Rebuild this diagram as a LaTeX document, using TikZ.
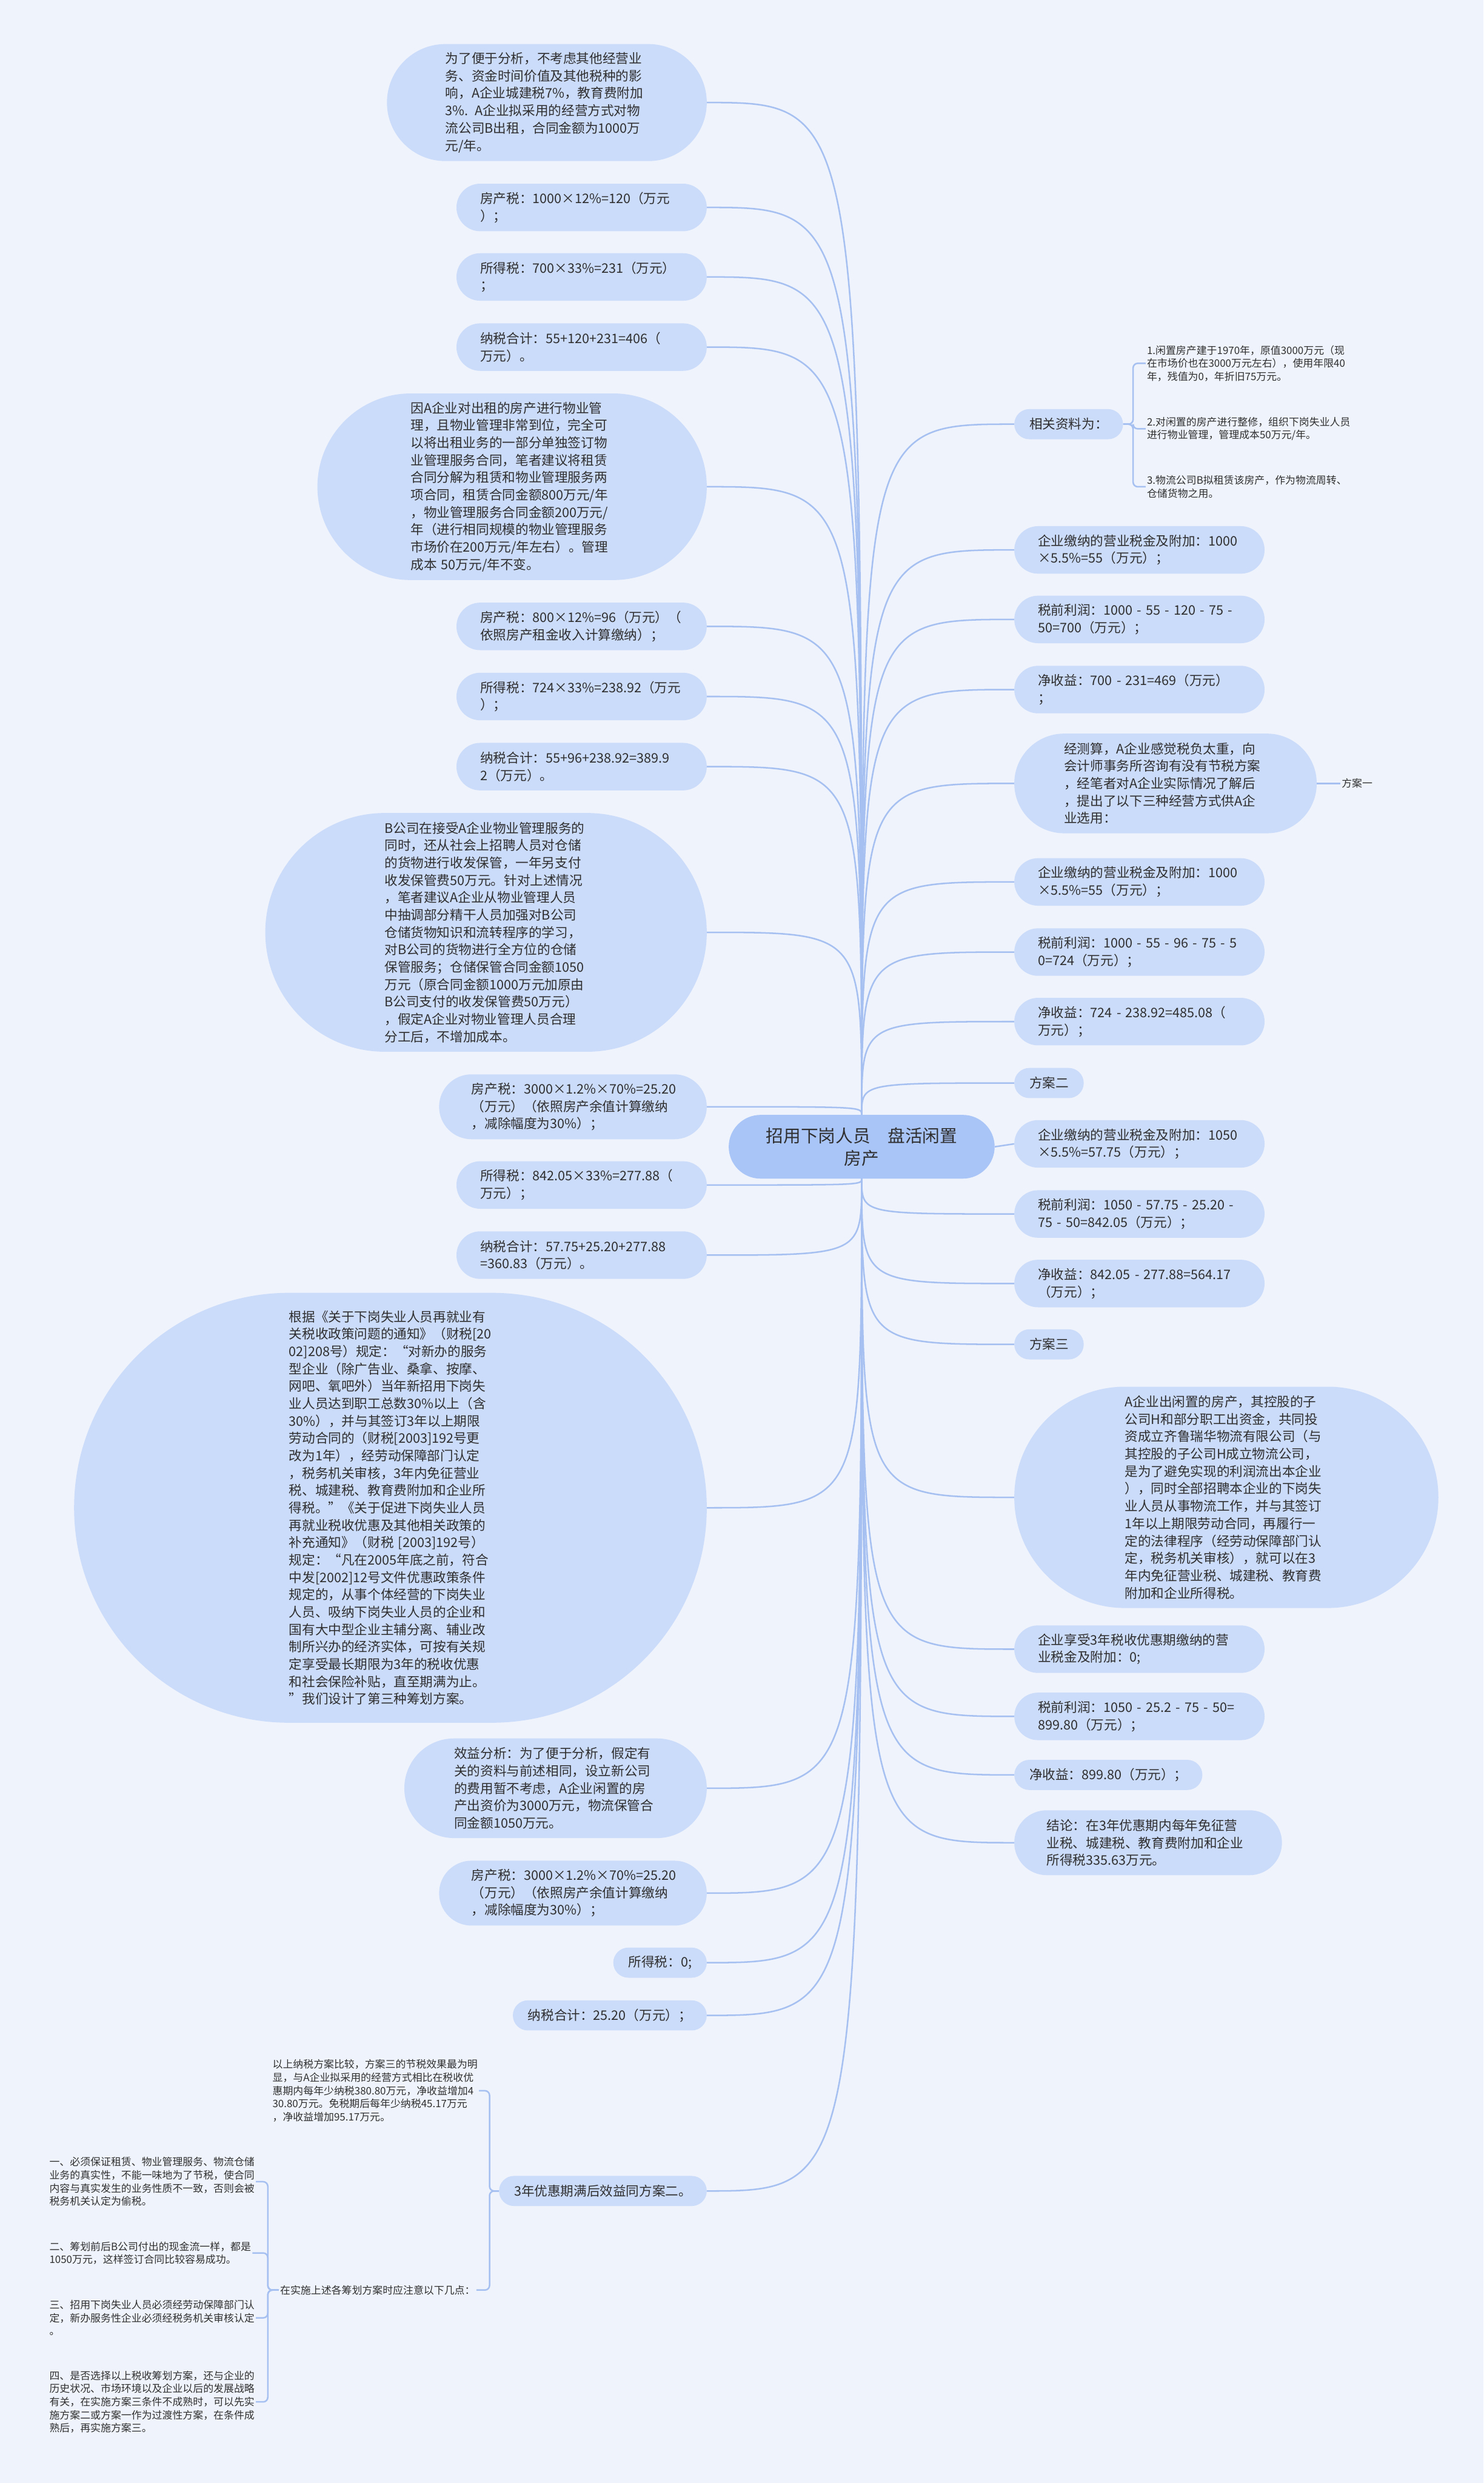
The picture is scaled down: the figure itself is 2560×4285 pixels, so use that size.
\documentclass[tikz,border=0pt]{standalone}
\usepackage{fontspec}
\setmainfont{Noto Sans CJK SC}

\definecolor{bgblue}{HTML}{EFF4FC}
\definecolor{nodeblue}{HTML}{CBDBFA}
\definecolor{rootblue}{HTML}{A9C4F7}
\definecolor{lineblue}{HTML}{A6C0F1}
\definecolor{textgray}{HTML}{2F2F2F}

\newcommand{\topicfont}{\fontsize{12.87pt}{17.07pt}\selectfont}
\newcommand{\notefont}{\fontsize{10.07pt}{12.87pt}\selectfont}
\newcommand{\rootfont}{\fontsize{17.07pt}{21.97pt}\selectfont}

\tikzstyle{short topic} = [rectangle,fill=nodeblue,text=textgray,font=\topicfont,inner ysep=0pt,align=left]
\tikzstyle{topic} = [short topic,text width=7cm]
\tikzstyle{root topic} = [rectangle,fill=rootblue,text=textgray,font=\rootfont,inner xsep=36.7pt,inner ysep=0pt,minimum height=62.6pt,rounded corners=31.3pt,align=center]
\tikzstyle{note} = [font=\notefont,text=textgray,align=left,inner sep=0.04cm]
\tikzstyle{branch} = [draw=lineblue,line width=1.5pt]
\tikzstyle{bracket} = [draw=lineblue,line width=1.5pt,rounded corners=0.16cm]

\begin{document}
\begin{tikzpicture}[x=0.02cm,y=-0.02cm]
      \fill[bgblue] (0,0) rectangle (2560,4285);
      \useasboundingbox (0,0) rectangle (2560,4285);
      % nodes
      \node[root topic] (root) at (1487,1979) {招用下岗人员\hspace{1em}盘活闲置\\房产};
      \foreach \nodename/\y/\n/\content in {
        L1/177/6/{为了便于分析，不考虑其他经营业\\务、资金时间价值及其他税种的影\\响，A企业城建税7\%，教育费附加\\3\%. A企业拟采用的经营方式对物\\流公司B出租，合同金额为1000万\\元/年。},
        L2/358/2/{房产税：1000×12\%=120（万元\\）；},
        L3/478/2/{所得税：700×33\%=231（万元）\\；},
        L4/599/2/{纳税合计：55+120+231=406（\\万元）。},
        L5/840/10/{因A企业对出租的房产进行物业管\\理，且物业管理非常到位，完全可\\以将出租业务的一部分单独签订物\\业管理服务合同，笔者建议将租赁\\合同分解为租赁和物业管理服务两\\项合同，租赁合同金额800万元/年\\，物业管理服务合同金额200万元/\\年（进行相同规模的物业管理服务\\市场价在200万元/年左右）。管理\\成本 50万元/年不变。},
        L6/1081/2/{房产税：800×12\%=96（万元）（\\依照房产租金收入计算缴纳）；},
        L7/1202/2/{所得税：724×33\%=238.92（万元\\）；},
        L8/1323/2/{纳税合计：55+96+238.92=389.9\\2（万元）。},
        L9/1609/13/{B公司在接受A企业物业管理服务的\\同时，还从社会上招聘人员对仓储\\的货物进行收发保管，一年另支付\\收发保管费50万元。针对上述情况\\，笔者建议A企业从物业管理人员\\中抽调部分精干人员加强对B公司\\仓储货物知识和流转程序的学习，\\对B公司的货物进行全方位的仓储\\保管服务；仓储保管合同金额1050\\万元（原合同金额1000万元加原由\\B公司支付的收发保管费50万元）\\，假定A企业对物业管理人员合理\\分工后，不增加成本。},
        L10/1910/3/{房产税：3000×1.2\%×70\%=25.20\\（万元）（依照房产余值计算缴纳\\，减除幅度为30\%）；},
        L11/2045/2/{所得税：842.05×33\%=277.88（\\万元）；},
        L12/2166/2/{纳税合计：57.75+25.20+277.88\\=360.83（万元）。},
        L13/2602/24/{根据《关于下岗失业人员再就业有\\关税收政策问题的通知》（财税[20\\02]208号）规定：“对新办的服务\\型企业（除广告业、桑拿、按摩、\\网吧、氧吧外）当年新招用下岗失\\业人员达到职工总数30\%以上（含\\30\%），并与其签订3年以上期限\\劳动合同的（财税[2003]192号更\\改为1年），经劳动保障部门认定\\，税务机关审核，3年内免征营业\\税、城建税、教育费附加和企业所\\得税。”《关于促进下岗失业人员\\再就业税收优惠及其他相关政策的\\补充通知》（财税 [2003]192号）\\规定：“凡在2005年底之前，符合\\中发[2002]12号文件优惠政策条件\\规定的，从事个体经营的下岗失业\\人员、吸纳下岗失业人员的企业和\\国有大中型企业主辅分离、辅业改\\制所兴办的经济实体，可按有关规\\定享受最长期限为3年的税收优惠\\和社会保险补贴，直至期满为止。\\”我们设计了第三种筹划方案。},
        L14/3086/5/{效益分析：为了便于分析，假定有\\关的资料与前述相同，设立新公司\\的费用暂不考虑，A企业闲置的房\\产出资价为3000万元，物流保管合\\同金额1050万元。},
        L15/3267/3/{房产税：3000×1.2\%×70\%=25.20\\（万元）（依照房产余值计算缴纳\\，减除幅度为30\%）；}}
      {
        \pgfmathsetmacro{\hh}{((\n-1)*30+52)*0.569055}
        \pgfmathsetmacro{\rr}{\hh/2}
        \node[topic, anchor=east, minimum height=\hh pt, inner xsep=\rr pt, rounded corners=\rr pt] (\nodename) at (1220,\y) {\content};
      };
      \foreach \nodename/\y/\content in {
        L16/3387/{所得税：0;},
        L17/3478/{纳税合计：25.20（万元）；},
        L18/3781/{3年优惠期满后效益同方案二。}}
      {
        \node[short topic, anchor=east, minimum height=29.6pt, inner xsep=14.8pt, rounded corners=14.8pt] (\nodename) at (1220,\y) {\content};
      };
      \foreach \nodename/\y/\n/\content in {
        R2/949/2/{企业缴纳的营业税金及附加：1000\\×5.5\%=55（万元）；},
        R3/1069/2/{税前利润：1000 - 55 - 120 - 75 -\\50=700（万元）；},
        R4/1190/2/{净收益：700 - 231=469（万元）\\；},
        R5/1352/5/{经测算，A企业感觉税负太重，向\\会计师事务所咨询有没有节税方案\\，经笔者对A企业实际情况了解后\\，提出了以下三种经营方式供A企\\业选用：},
        R6/1522/2/{企业缴纳的营业税金及附加：1000\\×5.5\%=55（万元）；},
        R7/1643/2/{税前利润：1000 - 55 - 96 - 75 - 5\\0=724（万元）；},
        R8/1763/2/{净收益：724 - 238.92=485.08（\\万元）；},
        R10/1974/2/{企业缴纳的营业税金及附加：1050\\×5.5\%=57.75（万元）；},
        R11/2095/2/{税前利润：1050 - 57.75 - 25.20 -\\75 - 50=842.05（万元）；},
        R12/2215/2/{净收益：842.05 - 277.88=564.17\\（万元）；},
        R14/2584/12/{A企业出闲置的房产，其控股的子\\公司H和部分职工出资金，共同投\\资成立齐鲁瑞华物流有限公司（与\\其控股的子公司H成立物流公司，\\是为了避免实现的利润流出本企业\\），同时全部招聘本企业的下岗失\\业人员从事物流工作，并与其签订\\1年以上期限劳动合同，再履行一\\定的法律程序（经劳动保障部门认\\定，税务机关审核），就可以在3\\年内免征营业税、城建税、教育费\\附加和企业所得税。},
        R15/2846/2/{企业享受3年税收优惠期缴纳的营\\业税金及附加：0;},
        R16/2962/2/{税前利润：1050 - 25.2 - 75 - 50=\\899.80（万元）；},
        R18/3180/3/{结论：在3年优惠期内每年免征营\\业税、城建税、教育费附加和企业\\所得税335.63万元。}}
      {
        \pgfmathsetmacro{\hh}{((\n-1)*30+52)*0.569055}
        \pgfmathsetmacro{\rr}{\hh/2}
        \node[topic, anchor=west, minimum height=\hh pt, inner xsep=\rr pt, rounded corners=\rr pt] (\nodename) at (1750,\y) {\content};
      };
      \foreach \nodename/\y/\content in {
        R1/732/{相关资料为：},
        R9/1869/{方案二},
        R13/2320/{方案三},
        R17/3063/{净收益：899.80（万元）；}}
      {
        \node[short topic, anchor=west, minimum height=29.6pt, inner xsep=14.8pt, rounded corners=14.8pt] (\nodename) at (1750,\y) {\content};
      };
      % small notes
      \foreach \nodename/\x/\y/\content in {
        C1/1977/627/{1.闲置房产建于1970年，原值3000万元（现\\在市场价也在3000万元左右），使用年限40\\年，残值为0，年折旧75万元。},
        C2/1977/740/{2.对闲置的房产进行整修，组织下岗失业人员\\进行物业管理，管理成本50万元/年。},
        C3/1977/840/{3.物流公司B拟租赁该房产，作为物流周转、\\仓储货物之用。},
        P1/2313/1352/{方案一},
        T1/468/3608/{以上纳税方案比较，方案三的节税效果最为明\\显，与A企业拟采用的经营方式相比在税收优\\惠期内每年少纳税380.80万元，净收益增加4\\30.80万元。免税期后每年少纳税45.17万元\\，净收益增加95.17万元。},
        I1/83/3765/{一、必须保证租赁、物业管理服务、物流仓储\\业务的真实性，不能一味地为了节税，使合同\\内容与真实发生的业务性质不一致，否则会被\\税务机关认定为偷税。},
        I2/83/3888/{二、筹划前后B公司付出的现金流一样，都是\\1050万元，这样签订合同比较容易成功。},
        I3/83/4000/{三、招用下岗失业人员必须经劳动保障部门认\\定，新办服务性企业必须经税务机关审核认定\\。},
        I4/83/4145/{四、是否选择以上税收筹划方案，还与企业的\\历史状况、市场环境以及企业以后的发展战略\\有关，在实施方案三条件不成熟时，可以先实\\施方案二或方案一作为过渡性方案，在条件成\\熟后，再实施方案三。}}
      {
        \node[note, anchor=west] (\nodename) at (\x,\y) {\content};
      };
      \node[note, anchor=east] (T2) at (822,3952) {在实施上述各筹划方案时应注意以下几点：};
      %edges
      \foreach \child in {L1,L2,L3,L4,L5,L6,L7,L8,L9,L10}
        \draw[branch] (root.north) .. controls (root.north |- \child.east) .. (\child.east);
      \foreach \child in {L11,L12,L13,L14,L15,L16,L17,L18}
        \draw[branch] (root.south) .. controls (root.south |- \child.east) .. (\child.east);
      \foreach \child in {R1,R2,R3,R4,R5,R6,R7,R8,R9}
        \draw[branch] (root.north) .. controls (root.north |- \child.west) .. (\child.west);
      \foreach \child in {R11,R12,R13,R14,R15,R16,R17,R18}
        \draw[branch] (root.south) .. controls (root.south |- \child.west) .. (\child.west);
      \draw[branch] (root.east) -- (R10.west);
      \draw[branch] (R5.east) -- (P1.west);
      \foreach \child in {C1,C2,C3}
        \draw[bracket] (R1.east) -- ++(17,0) |- (\child.west);
      \foreach \child in {T1,T2}
        \draw[bracket] (L18.west) -- ++(-16,0) |- (\child.east);
      \foreach \child in {I1,I2,I3,I4}
        \draw[bracket] (T2.west) -- ++(-19,0) |- (\child.east);
\end{tikzpicture}
\end{document}
